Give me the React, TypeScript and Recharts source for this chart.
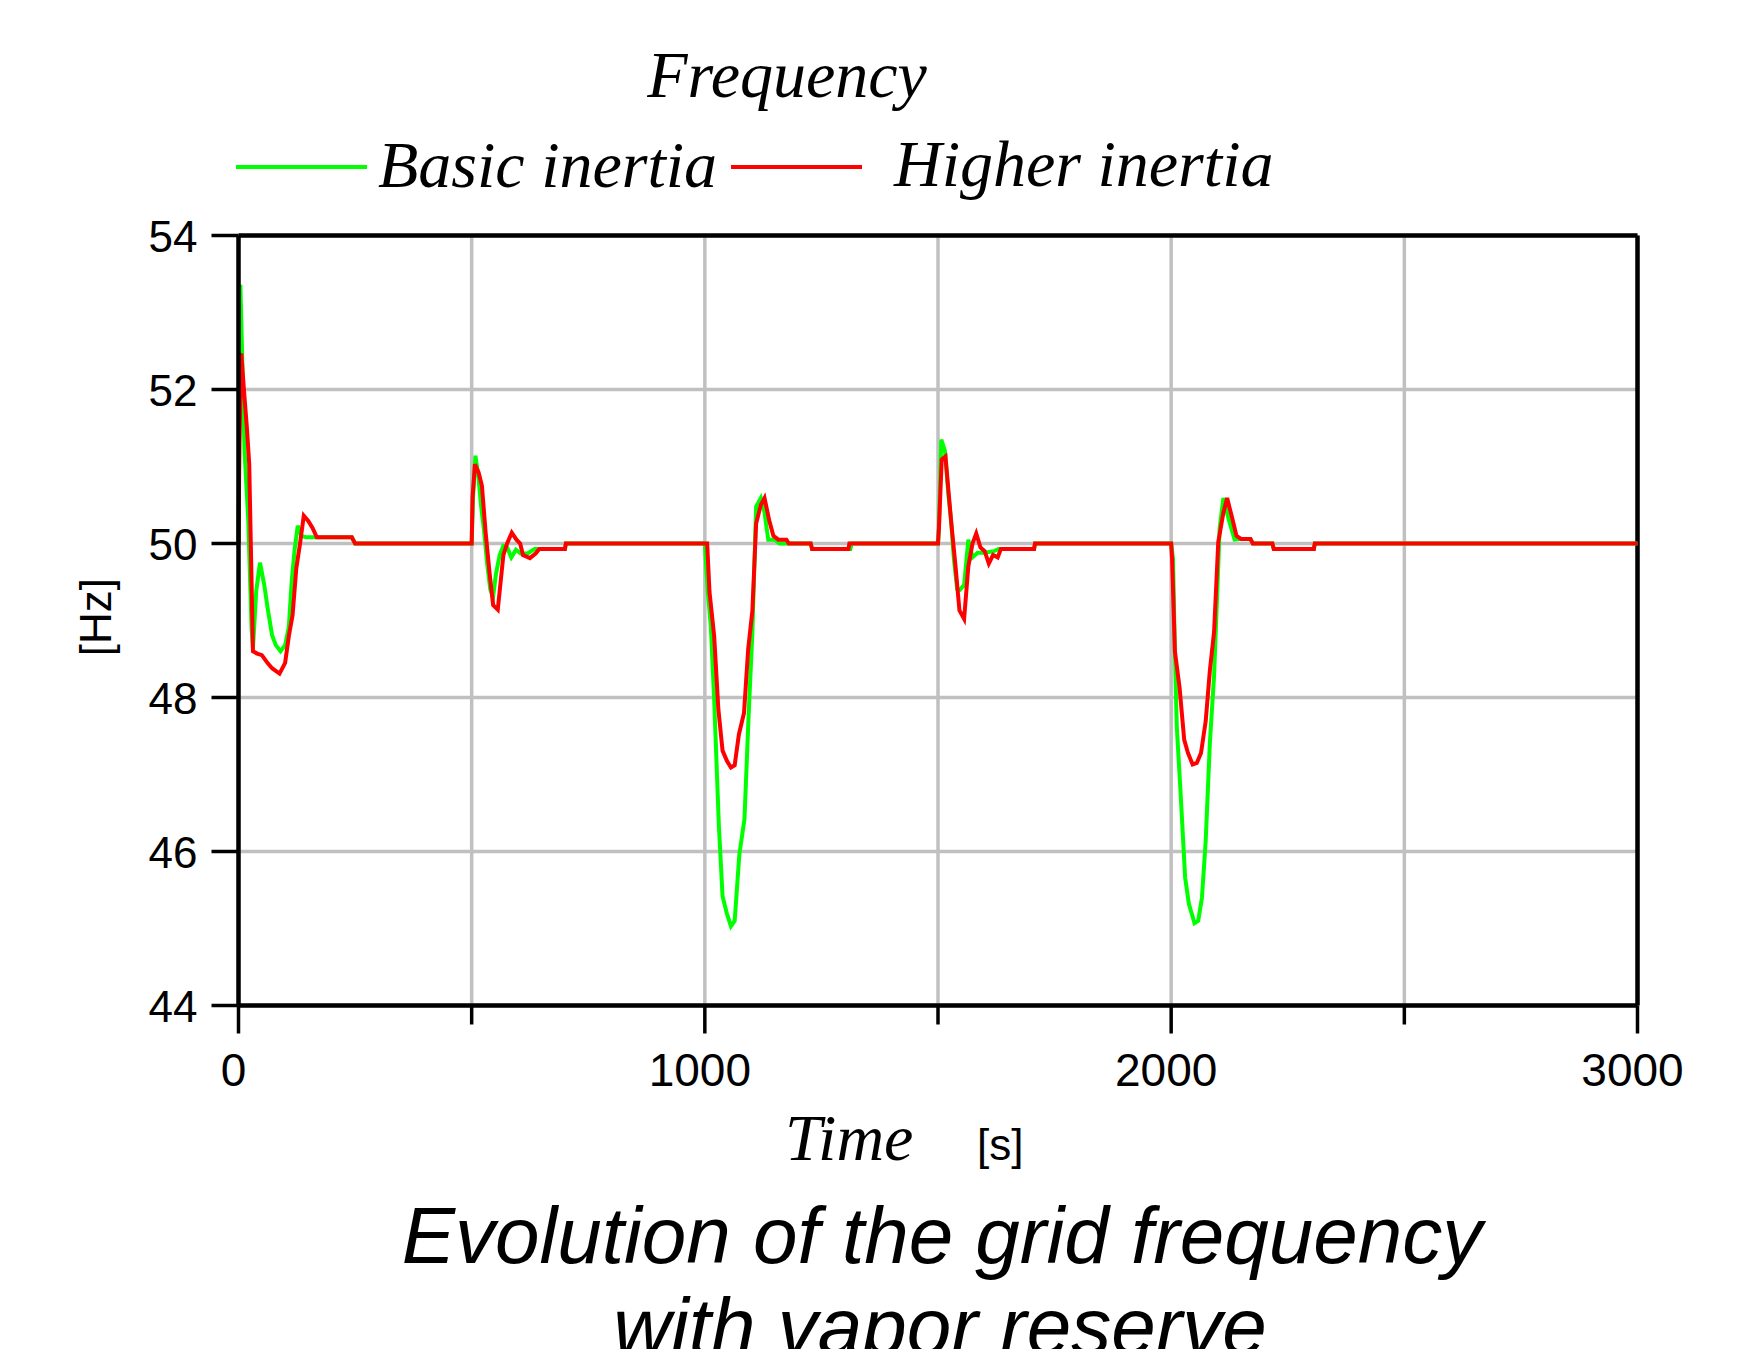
import { LineChart, Line, XAxis, YAxis, CartesianGrid, ReferenceLine } from 'recharts'

// Basic inertia (green) – time [s] and frequency [Hz]
const basicTime = [
  0, 4, 13, 21, 28, 31, 38, 46, 55, 63, 72, 80, 90, 100, 108, 114, 120, 127, 135, 145, 243, 250,
  500, 503, 508, 514, 520, 527, 533, 540, 546, 552, 560, 568, 576, 585, 595, 605, 620, 635, 700, 702,
  1000, 1006, 1013, 1020, 1030, 1038, 1047, 1056, 1064, 1074, 1085, 1094, 1102, 1110, 1120, 1128, 1136, 1150, 1160, 1227, 1230, 1312, 1315,
  1500, 1502, 1507, 1515, 1522, 1528, 1534, 1541, 1547, 1556, 1565, 1574, 1585, 1600, 1620, 1630, 1706, 1708,
  2000, 2004, 2008, 2012, 2020, 2030, 2038, 2050, 2058, 2066, 2074, 2083, 2092, 2104, 2112, 2124, 2136, 2150, 2170, 2175, 2217, 2220, 2306, 2308,
  3000,
]
const basicFreq = [
  50, 53.36, 51.2, 50.3, 48.9, 48.64, 49.38, 49.75, 49.47, 49.14, 48.81, 48.68, 48.6, 48.68, 48.92, 49.5, 49.9, 50.23, 50.1, 50.08, 50.08, 50,
  50, 50.6, 51.14, 50.9, 50.5, 50.14, 49.75, 49.4, 49.31, 49.6, 49.85, 49.97, 49.95, 49.82, 49.92, 49.87, 49.87, 49.93, 49.93, 50,
  50, 49.4, 48.91, 47.98, 46.35, 45.42, 45.2, 45.03, 45.1, 45.96, 46.42, 47.78, 48.85, 50.48, 50.59, 50.4, 50.05, 50.05, 50, 50, 49.93, 49.93, 50,
  50, 50.2, 51.35, 51.2, 50.65, 50.3, 49.8, 49.41, 49.4, 49.46, 50.05, 49.82, 49.88, 49.88, 49.9, 49.93, 49.93, 50,
  50, 49.8, 48.59, 47.63, 46.78, 45.66, 45.32, 45.07, 45.1, 45.4, 46.13, 47.41, 48.28, 50.2, 50.59, 50.3, 50.05, 50.06, 50.06, 50, 50, 49.93, 49.93, 50,
  50,
]

// Higher inertia (red)
const higherTime = [
  0, 2, 6, 12, 18, 23, 31, 40, 50, 62, 72, 88, 100, 108, 116, 124, 132, 140, 150, 159, 168, 243, 250,
  500, 502, 507, 515, 522, 530, 538, 546, 556, 568, 576, 586, 596, 604, 610, 625, 637, 645, 700, 702,
  1000, 1005, 1010, 1020, 1029, 1038, 1047, 1056, 1064, 1073, 1084, 1093, 1102, 1110, 1120, 1128, 1138, 1147, 1158, 1175, 1180, 1227, 1230, 1308, 1310,
  1500, 1502, 1508, 1516, 1528, 1537, 1546, 1556, 1565, 1574, 1582, 1591, 1600, 1609, 1618, 1628, 1635, 1706, 1708,
  2000, 2002, 2008, 2018, 2028, 2036, 2046, 2055, 2064, 2074, 2083, 2092, 2101, 2112, 2120, 2130, 2140, 2150, 2170, 2175, 2217, 2220, 2306, 2308,
  3000,
]
const higherFreq = [
  50, 51.3, 52.47, 51.97, 51.5, 51.03, 48.6, 48.57, 48.55, 48.45, 48.38, 48.31, 48.45, 48.8, 49.07, 49.68, 50, 50.36, 50.29, 50.2, 50.08, 50.08, 50,
  50, 50.6, 51.03, 50.92, 50.75, 50.14, 49.64, 49.2, 49.14, 49.85, 50, 50.14, 50.05, 50, 49.85, 49.81, 49.87, 49.93, 49.93, 50,
  50, 50, 49.37, 48.8, 47.85, 47.31, 47.18, 47.09, 47.12, 47.52, 47.8, 48.63, 49.13, 50.26, 50.5, 50.59, 50.3, 50.1, 50.05, 50.05, 50, 50, 49.93, 49.93, 50,
  50, 50.2, 51.09, 51.13, 50.3, 49.74, 49.13, 49.02, 49.7, 50, 50.13, 49.95, 49.9, 49.74, 49.85, 49.82, 49.93, 49.93, 50,
  50, 49.8, 48.6, 48.13, 47.45, 47.28, 47.13, 47.15, 47.28, 47.69, 48.35, 48.85, 50.02, 50.4, 50.59, 50.35, 50.1, 50.06, 50.06, 50, 50, 49.93, 49.93, 50,
  50,
]

const xTicks = [0, 500, 1000, 1500, 2000, 2500, 3000]
const xLabelled = [0, 1000, 2000, 3000]
const yTicks = [44, 46, 48, 50, 52, 54]

const basicData = basicTime.map((t, i) => ({ t, f: basicFreq[i] }))
const higherData = higherTime.map((t, i) => ({ t, f: higherFreq[i] }))

const SANS = '"Liberation Sans", Arial, sans-serif'
const SERIF = '"Liberation Serif", "Times New Roman", serif'

function XTick(props: any) {
  const { x, y, payload } = props
  const major = xLabelled.includes(payload.value)
  return (
    <g>
      <line x1={x} x2={x} y1={y} y2={y + (major ? 28 : 19)} stroke="#000" strokeWidth={3.5} />
      {major && (
        <text x={x - 5} y={y + 80} textAnchor="middle" fontSize={46} fontFamily={SANS} fill="#000">
          {payload.value}
        </text>
      )}
    </g>
  )
}

function YTick(props: any) {
  const { x, y, payload } = props
  return (
    <g>
      <line x1={x - 27} x2={x} y1={y} y2={y} stroke="#000" strokeWidth={3.5} />
      <text x={x - 41} y={y + 16} textAnchor="end" fontSize={44} fontFamily={SANS} fill="#000">
        {payload.value}
      </text>
    </g>
  )
}

export default function App() {
  return (
    <div style={{ position: 'absolute', left: 0, top: 0, width: 1745, height: 1349, overflow: 'hidden', background: '#fff' }}>
      <LineChart
        width={1745}
        height={1349}
        margin={{ top: 235.5, right: 107.5, left: 138.5, bottom: 283.5 }}
      >
        <CartesianGrid stroke="#c0c0c0" strokeWidth={3.5} />
        <XAxis
          dataKey="t"
          type="number"
          domain={[0, 3000]}
          ticks={xTicks}
          height={60}
          tickSize={0}
          tickMargin={0}
          tickLine={false}
          tick={<XTick />}
          axisLine={{ stroke: '#000', strokeWidth: 4.5 }}
          interval={0}
        />
        <YAxis
          type="number"
          domain={[44, 54]}
          ticks={yTicks}
          width={100}
          tickSize={0}
          tickMargin={0}
          tickLine={false}
          tick={<YTick />}
          axisLine={{ stroke: '#000', strokeWidth: 4.5 }}
          interval={0}
        />
        <ReferenceLine y={54} stroke="#000" strokeWidth={4.5} />
        <ReferenceLine x={3000} stroke="#000" strokeWidth={4.5} />
        <Line
          data={basicData}
          dataKey="f"
          type="linear"
          stroke="#00ff00"
          strokeWidth={4}
          dot={false}
          isAnimationActive={false}
        />
        <Line
          data={higherData}
          dataKey="f"
          type="linear"
          stroke="#ff0000"
          strokeWidth={4}
          dot={false}
          isAnimationActive={false}
        />
      </LineChart>
      <svg
        width={1745}
        height={1349}
        style={{ position: 'absolute', left: 0, top: 0, pointerEvents: 'none' }}
      >
        <text x={787} y={97} textAnchor="middle" fontSize={66} fontStyle="italic" fontFamily={SERIF} fill="#000">
          Frequency
        </text>
        <line x1={236} x2={367} y1={167} y2={167} stroke="#00ff00" strokeWidth={4} />
        <text x={378} y={187} fontSize={66} fontStyle="italic" fontFamily={SERIF} fill="#000">
          Basic inertia
        </text>
        <line x1={731} x2={862} y1={167} y2={167} stroke="#ff0000" strokeWidth={4} />
        <text x={894} y={186} fontSize={66} fontStyle="italic" fontFamily={SERIF} fill="#000">
          Higher inertia
        </text>
        <text
          x={95}
          y={617}
          textAnchor="middle"
          dominantBaseline="central"
          fontSize={44}
          fontFamily={SANS}
          fill="#000"
          transform="rotate(-90 95 617)"
        >
          [Hz]
        </text>
        <text x={785} y={1160} fontSize={66} fontStyle="italic" fontFamily={SERIF} fill="#000">
          Time
        </text>
        <text x={977} y={1160} fontSize={44} fontFamily={SANS} fill="#000">
          [s]
        </text>
        <text x={942} y={1263} textAnchor="middle" fontSize={80} fontStyle="italic" fontFamily={SANS} fill="#000">
          Evolution of the grid frequency
        </text>
        <text x={940} y={1354} textAnchor="middle" fontSize={80} fontStyle="italic" fontFamily={SANS} fill="#000">
          with vapor reserve
        </text>
      </svg>
    </div>
  )
}
